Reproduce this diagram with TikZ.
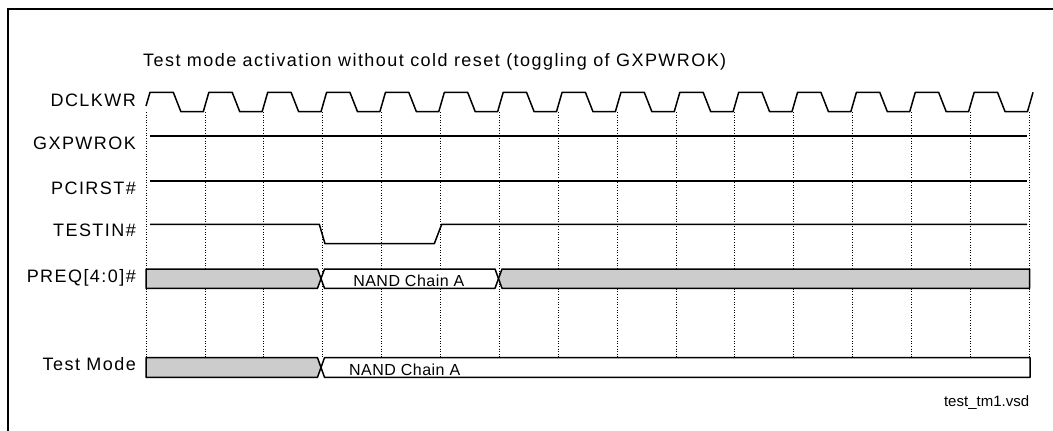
\documentclass[tikz,border=0pt]{standalone}
\usepackage{fontspec}
\setmainfont{Liberation Sans}
\newfontfamily\sigfont[LetterSpace=8]{Liberation Sans}
\newfontfamily\busfont[LetterSpace=3]{Liberation Sans}
\usepackage{tikz}

\begin{document}
\begin{tikzpicture}[x=1pt, y=-1pt,
    sig/.style={line width=1.5pt, line join=round},
    bus/.style={line width=1.5pt, line join=round},
    grid/.style={dotted, line width=0.6pt},
    lbl/.style={anchor=base east, inner sep=0pt, font=\fontsize{18}{18}\sigfont},
    buslbl/.style={anchor=base, inner sep=0pt, font=\fontsize{16}{16}\busfont}]
                \useasboundingbox (0,0) rectangle (1053,431);

                % Marco
                \draw[line width=2pt] (8,431) -- (8,9) -- (1053,9);

                % Titulo
                \node[anchor=base west, inner sep=0pt, font=\fontsize{18}{18}\sigfont] (title) at (143,66)
                    {Test mode activation without cold reset (toggling of GXPWROK)};

                % Rejilla de ciclos
                \foreach \i in {0,...,15}
                    \draw[grid] ({146+\i*58.87},112) -- ({146+\i*58.87},357.7);

                % Nombres de las senales
                \node[lbl] (dclk) at (136,106) {DCLKWR};
                \node[lbl] (pwrok) at (136,149.3) {GXPWROK};
                \node[lbl] (pcirst) at (136,194) {PCIRST\#};
                \node[lbl] (testin) at (136,236.7) {TESTIN\#};
                \node[lbl] (preq) at (136,282.5) {PREQ[4:0]\#};
                \node[lbl] (tmode) at (136,370) {Test Mode};

                % Reloj
                \draw[sig] (146,106) -- (150,92.3)
                    \foreach \i in {0,...,14} {
                        -- ({146+\i*58.87+27.3},92.3) -- ({146+\i*58.87+34.9},111.7)
                        -- ({146+(\i+1)*58.87-1.6},111.7) -- ({146+(\i+1)*58.87+4},92.3)
                    };

                % Senales fijas
                \draw[sig] (150,136) -- (1027,136);
                \draw[sig] (150,181) -- (1027,181);

                % TESTIN#
                \draw[sig] (150,224.3) -- (319.3,224.3) -- (325,243.7) -- (434.3,243.7)
                    -- (441.7,224.3) -- (1027,224.3);

                % PREQ[4:0]#
                \draw[bus, fill=gray!40] (146,269) -- (317.5,269) -- (321,278.6) -- (317.5,288.3)
                    -- (146,288.3) -- cycle;
                \draw[bus, fill=white] (324.5,269) -- (495,269) -- (498.5,278.6) -- (495,288.3)
                    -- (324.5,288.3) -- (321,278.6) -- cycle;
                \draw[bus, fill=gray!40] (502,269) -- (1029.5,269) -- (1029.5,288.3)
                    -- (502,288.3) -- (498.5,278.6) -- cycle;
                \node[buslbl] (preqA) at (408.8,286.7) {NAND Chain A};

                % Test Mode
                \draw[bus, fill=gray!40] (146,357.7) -- (317.5,357.7) -- (321,367.5) -- (317.5,377.3)
                    -- (146,377.3) -- cycle;
                \draw[bus, fill=white] (324.5,357.7) -- (1030,357.7) -- (1030,377.3)
                    -- (324.5,377.3) -- (321,367.5) -- cycle;
                \node[buslbl] (tmodeA) at (404.7,375) {NAND Chain A};

                % Nombre del archivo
                \node[anchor=base east, inner sep=0pt, font=\fontsize{15}{15}\selectfont] (file) at (1029.3,406.7) {test\_tm1.vsd};
            \end{tikzpicture}
\end{document}
